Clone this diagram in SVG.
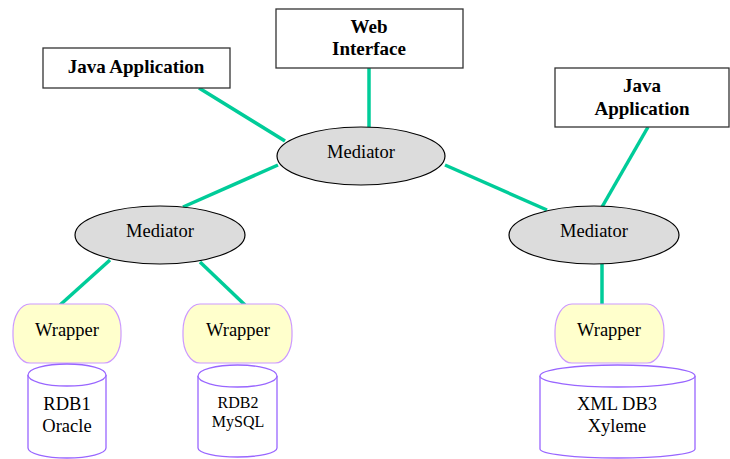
<svg xmlns="http://www.w3.org/2000/svg" width="730" height="459" viewBox="0 0 730 459">
<style>
.box{fill:#fff;stroke:#333;stroke-width:1.3}
.med{fill:#dcdcdc;stroke:#000;stroke-width:1.2}
.wrap{fill:#ffffcc;stroke:#cc99ff;stroke-width:1.2}
.db{fill:#fff;stroke:#9966ff;stroke-width:1.3}
.con line{stroke:#00cc99;stroke-width:3.5}
text{font-family:"Liberation Serif","Times New Roman",serif;fill:#000;text-anchor:middle}
.b{font-weight:bold;font-size:19px}
.t{font-size:18.5px}
.s{font-size:16px}
</style>
<rect width="730" height="459" fill="#fff"/>
<g id="connectors" class="con">
<line x1="199" y1="88" x2="285" y2="141"/>
<line x1="369" y1="68" x2="369" y2="127"/>
<line x1="278" y1="165" x2="183" y2="207"/>
<line x1="445" y1="165" x2="547" y2="210"/>
<line x1="648" y1="127" x2="602" y2="207"/>
<line x1="110" y1="260" x2="60" y2="305"/>
<line x1="200" y1="262" x2="245" y2="305"/>
<line x1="602" y1="264" x2="602" y2="305"/>
</g>
<g id="java1"><rect class="box" x="43" y="48" width="187" height="40"/><text class="b" x="136" y="73">Java Application</text></g>
<g id="web"><rect class="box" x="276" y="9" width="187" height="59"/><text class="b" x="369" y="33">Web</text><text class="b" x="369" y="55">Interface</text></g>
<g id="java2"><rect class="box" x="555" y="68" width="174" height="59"/><text class="b" x="642" y="92">Java</text><text class="b" x="642" y="115">Application</text></g>
<g id="med-top"><ellipse class="med" cx="361" cy="156" rx="84" ry="29"/><text class="t" x="361" y="158">Mediator</text></g>
<g id="med-left"><ellipse class="med" cx="160" cy="235" rx="85" ry="29"/><text class="t" x="160" y="237">Mediator</text></g>
<g id="med-right"><ellipse class="med" cx="594" cy="235" rx="85" ry="29"/><text class="t" x="594" y="237">Mediator</text></g>
<g id="wrap1"><rect class="wrap" x="13" y="304" width="108" height="59" rx="17" ry="27"/><text class="t" x="67" y="336">Wrapper</text></g>
<g id="wrap2"><rect class="wrap" x="183" y="304" width="109" height="59" rx="17" ry="27"/><text class="t" x="238" y="336">Wrapper</text></g>
<g id="wrap3"><rect class="wrap" x="555" y="304" width="109" height="59" rx="17" ry="27"/><text class="t" x="609" y="336">Wrapper</text></g>
<g id="db1"><path class="db" d="M28 375 V448 A39 10 0 0 0 106 448 V375"/><ellipse class="db" cx="67" cy="375" rx="39" ry="11"/><text class="t" x="67" y="410">RDB1</text><text class="t" x="67" y="432">Oracle</text></g>
<g id="db2"><path class="db" d="M198 376 V448 A39.5 9 0 0 0 277 448 V376"/><ellipse class="db" cx="237.5" cy="376" rx="39.5" ry="11"/><text class="s" x="238" y="408">RDB2</text><text class="s" x="238" y="427">MySQL</text></g>
<g id="db3"><path class="db" d="M540 376 V449 A77.5 9 0 0 0 695 449 V376"/><ellipse class="db" cx="617.5" cy="376" rx="77.5" ry="11"/><text class="t" x="617" y="410">XML DB3</text><text class="t" x="617" y="432">Xyleme</text></g>
</svg>
